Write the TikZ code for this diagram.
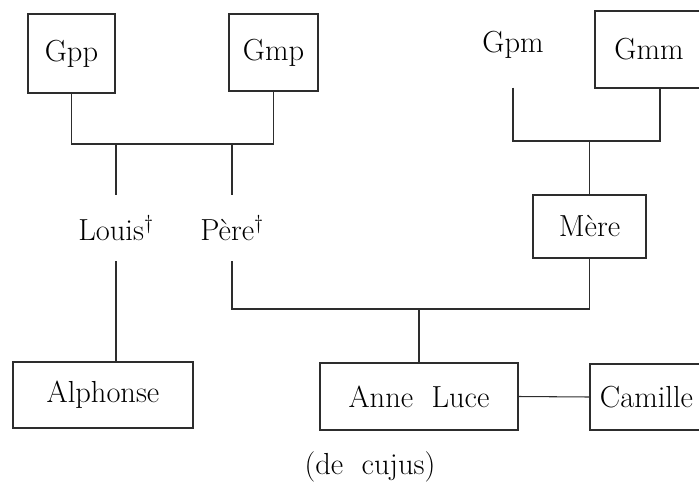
\documentclass[tikz,border=0pt]{standalone}
\usetikzlibrary{positioning,calc}
\usepackage{xcolor}
\definecolor{pencil}{RGB}{45,45,45}

\begin{document}
\begin{tikzpicture}[x=0.03cm, y=-0.03cm, font=\fontsize{26}{30}\selectfont,
  line width=0.9pt, draw=pencil,
  pbox/.style={draw=pencil, line width=0.9pt, inner sep=2pt, align=center},
  ptext/.style={inner sep=0pt, align=center}]

% --- frame (clips the boxes cut at the right edge) ---
\clip (0,0) rectangle (699,497);

% --- grandparents ---
\node[pbox, minimum width=2.61cm, minimum height=2.37cm] (gpp) at (71.5,53.5) {Gpp};
\node[pbox, minimum width=2.67cm, minimum height=2.31cm] (gmp) at (273.5,52.5) {Gmp};
\node[ptext, minimum height=2.52cm] (gpm) at (513,45) {Gpm};
\node[pbox, minimum width=3.24cm, minimum height=2.31cm] (gmm) at (649,49.5) {Gmm};

% --- parents ---
\node[ptext, minimum height=1.95cm] (louis) at (116,228) {Louis$^{\dagger}$};
\node[ptext, minimum height=1.95cm] (pere) at (232,228) {Père$^{\dagger}$};
\node[pbox, minimum width=3.39cm, minimum height=1.89cm] (mere) at (589.5,226.5) {Mère};

% --- children ---
\node[pbox, minimum width=5.4cm, minimum height=1.98cm] (alph) at (103,395) {Alphonse};
\node[pbox, minimum width=5.94cm, minimum height=2.01cm] (anne) at (419,396.5) {Anne\ \ Luce};
\node[pbox, minimum width=3.39cm, minimum height=1.98cm] (camille) at (646.5,397) {Camille};
\node[ptext] (cujus) at (370,467) {(de\ \ cujus)};

% --- family lines ---
\coordinate (gbar) at (0,144);
\coordinate (pbar) at (0,309);
\coordinate (mbar) at (660,141);

\draw (gpp.south) -- (gpp.south |- gbar) -- (gmp.south |- gbar) -- (gmp.south);
\draw (louis.north |- gbar) -- (louis.north);
\draw (pere.north |- gbar) -- (pere.north);
\draw (louis.south) -- (louis.south |- alph.north);
\draw (gpm.south) |- (mbar) -- (mbar |- gmm.south);
\draw (mere.north |- mbar) -- (mere.north);
\draw (pere.south) |- (pbar -| mere.south) -- (mere.south);
\draw (anne.north |- pbar) -- (anne.north);
\draw (anne.east) -- (camille.west);
\end{tikzpicture}
\end{document}
